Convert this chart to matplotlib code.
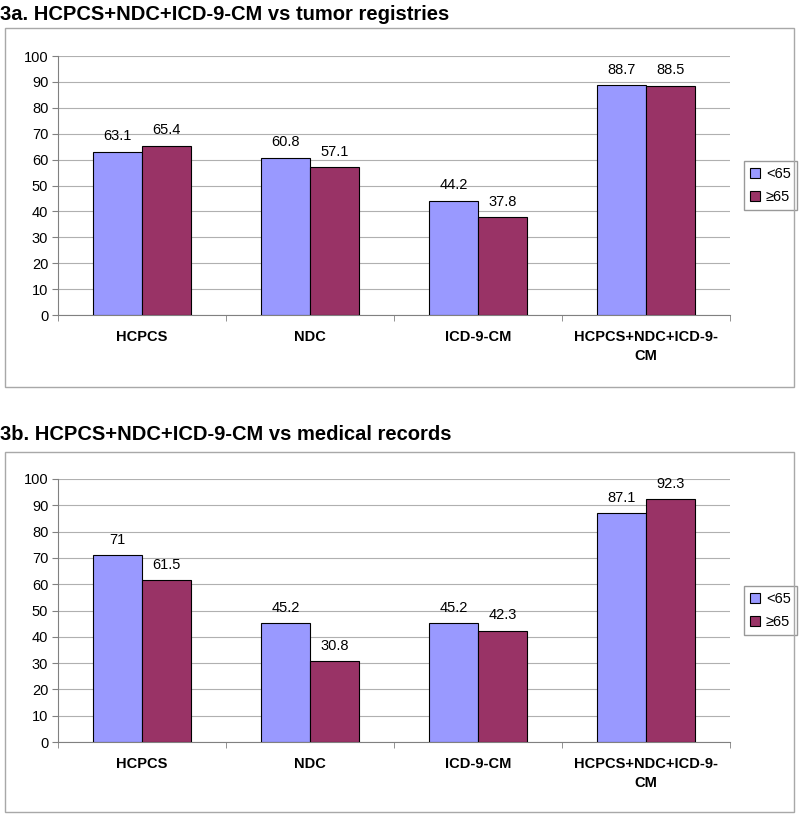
import numpy as np
import matplotlib
matplotlib.use("Agg")
import matplotlib.pyplot as plt
from matplotlib.patches import Rectangle

plt.rcParams['font.family'] = ['Liberation Sans', 'DejaVu Sans']

categories = ["HCPCS", "NDC", "ICD-9-CM", "HCPCS+NDC+ICD-9-\nCM"]
series_names = ["<65", "\u226565"]

# 3a: vs tumor registries
tumor_lt65 = [63.1, 60.8, 44.2, 88.7]
tumor_ge65 = [65.4, 57.1, 37.8, 88.5]

# 3b: vs medical records
medrec_lt65 = [71, 45.2, 45.2, 87.1]
medrec_ge65 = [61.5, 30.8, 42.3, 92.3]

titles = ["3a. HCPCS+NDC+ICD-9-CM vs tumor registries",
          "3b. HCPCS+NDC+ICD-9-CM vs medical records"]

BLUE = "#9999ff"
PLUM = "#993366"
W, H = 800, 814

fig = plt.figure(figsize=(W / 100, H / 100), dpi=100)


def fx(px):
    return px / W


def fy(py):
    return 1 - py / H


def panel(title, title_y, frame_top, frame_bot, y100, y0, lt, ge):
    fig.text(fx(0), fy(title_y), title, fontsize=14.5, fontweight="bold",
             ha="left", va="center")
    fig.patches.append(Rectangle((fx(5), fy(frame_bot)), fx(794) - fx(5),
                                 fy(frame_top) - fy(frame_bot),
                                 transform=fig.transFigure, fill=False,
                                 edgecolor="#a8a8a8", linewidth=1))
    ax = fig.add_axes([fx(58), fy(y0), fx(730) - fx(58), fy(y100) - fy(y0)])
    x = np.arange(len(categories))
    bw = 0.29
    b1 = ax.bar(x - bw / 2, lt, bw, color=BLUE, edgecolor="black",
                linewidth=0.8, label=series_names[0], zorder=3)
    b2 = ax.bar(x + bw / 2, ge, bw, color=PLUM, edgecolor="black",
                linewidth=0.8, label=series_names[1], zorder=3)
    for bars, vals in ((b1, lt), (b2, ge)):
        for b, v in zip(bars, vals):
            ax.annotate("%g" % v, (b.get_x() + b.get_width() / 2, v),
                        xytext=(0, 6), textcoords="offset points",
                        ha="center", va="bottom", fontsize=10.5)
    ax.set_xlim(-0.5, 3.5)
    ax.set_ylim(0, 100)
    ax.set_yticks(np.arange(0, 101, 10))
    ax.yaxis.grid(True, color="#b0b0b0", linewidth=0.8, zorder=0)
    ax.set_axisbelow(True)
    ax.set_xticks(x)
    ax.set_xticklabels(categories, fontsize=10.5, fontweight="bold",
                       linespacing=1.4)
    ax.set_xticks(np.arange(-0.5, 4, 1), minor=True)
    ax.tick_params(axis="x", which="major", length=0, pad=11)
    ax.tick_params(axis="x", which="minor", length=4, color="#808080")
    ax.tick_params(axis="y", length=4, color="#808080", labelsize=10.5, pad=3)
    for s in ("top", "right"):
        ax.spines[s].set_visible(False)
    for s in ("left", "bottom"):
        ax.spines[s].set_color("#808080")
        ax.spines[s].set_linewidth(0.8)
    ax.legend(loc="center left", bbox_to_anchor=((744 - 58) / 672, 0.5),
              fontsize=10.5, frameon=True, fancybox=False, edgecolor="#808080",
              handlelength=0.7, handleheight=0.7, handletextpad=0.4,
              borderpad=0.4, labelspacing=0.6, borderaxespad=0)
    return ax


panel(titles[0], 15, 28, 387, 56, 315, tumor_lt65, tumor_ge65)
panel(titles[1], 435, 452, 812, 479, 742, medrec_lt65, medrec_ge65)

fig.savefig("out.png", dpi=100, facecolor="white")
